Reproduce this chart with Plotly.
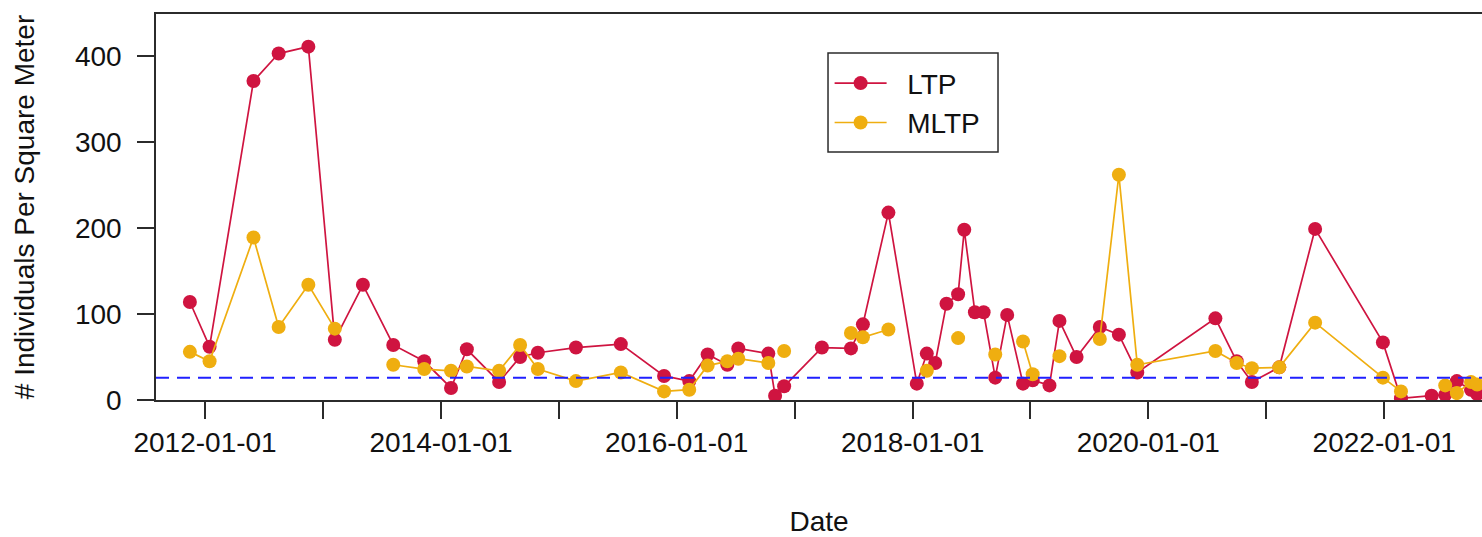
import plotly.graph_objects as go

dates = [
    "2011-11-15", "2012-01-15", "2012-05-30", "2012-08-16", "2012-11-16",
    "2013-02-06", "2013-05-04", "2013-08-06", "2013-11-10", "2014-02-01",
    "2014-03-22", "2014-06-30", "2014-09-03", "2014-10-28", "2015-02-23",
    "2015-07-12", "2015-11-23", "2016-02-09", "2016-04-06", "2016-06-06",
    "2016-07-10", "2016-10-11", "2016-11-01", "2016-11-29", "2017-03-26",
    "2017-06-24", "2017-07-31", "2017-10-18", "2018-01-14", "2018-02-14",
    "2018-03-12", "2018-04-16", "2018-05-22", "2018-06-10", "2018-07-13",
    "2018-08-09", "2018-09-14", "2018-10-21", "2018-12-09", "2019-01-08",
    "2019-03-01", "2019-04-01", "2019-05-24", "2019-08-04", "2019-10-02",
    "2019-11-28", "2020-07-27", "2020-10-01", "2020-11-17", "2021-02-10",
    "2021-06-01", "2021-12-28", "2022-02-22", "2022-05-28", "2022-07-09",
    "2022-08-14", "2022-09-27", "2022-10-16",
]

ltp = [
    114, 62, 371, 403, 411,
    70, 134, 64, 45, 14,
    59, 21, 50, 55, 61,
    65, 28, 22, 53, 41,
    60, 54, 5, 16, 61,
    60, 88, 218, 19, 54,
    43, 112, 123, 198, 102,
    102, 26, 99, 19, 23,
    17, 92, 50, 85, 76,
    32, 95, 45, 21, 38,
    199, 67, 2, 5, 6,
    22, 12, 7,
]

mltp = [
    56, 45, 189, 85, 134,
    83, None, 41, 36, 34,
    39, 34, 64, 36, 22,
    32, 10, 12, 40, 45,
    48, 43, None, 57, None,
    78, 73, 82, None, 34,
    None, None, 72, None, None,
    None, 53, None, 68, 30,
    None, 51, None, 71, 262,
    41, 57, 43, 37, 38,
    90, 26, 10, None, 17,
    8, 21, 18,
]

threshold = 26
year_ticks = [f"{y}-01-01" for y in range(2012, 2023)]
year_labels = [f"{y}-01-01" if y % 2 == 0 else "" for y in range(2012, 2023)]
y_ticks = [0, 100, 200, 300, 400]

RED = "#CF1440"
YEL = "#EFAE10"
AX = "#2b2b2b"
FONT = "Liberation Sans, Arial, sans-serif"
FS = 28

fig = go.Figure()
fig.add_trace(go.Scatter(
    x=dates, y=ltp, name="\u00a0\u00a0LTP", mode="lines+markers",
    line=dict(color=RED, width=1.7),
    marker=dict(color=RED, size=14),
))
fig.add_trace(go.Scatter(
    x=dates, y=mltp, name="\u00a0\u00a0MLTP", mode="lines+markers",
    line=dict(color=YEL, width=1.7),
    marker=dict(color=YEL, size=14),
))

fig.add_shape(type="line", xref="paper", x0=0, x1=1, yref="y",
              y0=threshold, y1=threshold,
              line=dict(color="#2020ff", width=2, dash="13px,8px"))

# legend frame
fig.add_shape(type="rect", xref="paper", yref="paper",
              x0=0.5068, x1=0.635, y0=0.6425, y1=0.899,
              line=dict(color=AX, width=1.5), fillcolor="rgba(0,0,0,0)",
              layer="above")

fig.update_layout(
    width=1482, height=537,
    margin=dict(l=156, r=0, t=14, b=137),
    paper_bgcolor="white", plot_bgcolor="white",
    font=dict(family=FONT, size=FS, color="#111"),
    showlegend=True,
    legend=dict(
        x=0.508, y=0.885, xanchor="left", yanchor="top",
        borderwidth=0, bgcolor="rgba(255,255,255,0)",
        font=dict(size=FS), tracegroupgap=0, itemwidth=52,
    ),
    xaxis=dict(
        type="date",
        range=["2011-08-02", "2022-10-31"],
        tickmode="array", tickvals=year_ticks, ticktext=year_labels,
        ticks="outside", ticklen=17, tickwidth=1.5, tickcolor=AX,
        showline=True, linecolor=AX, linewidth=1.5, mirror=True,
        showgrid=False, zeroline=False,
        tickfont=dict(size=FS),
        title=dict(text="Date", font=dict(size=FS), standoff=60),
    ),
    yaxis=dict(
        range=[0, 449],
        tickmode="array", tickvals=y_ticks,
        ticks="outside", ticklen=17, tickwidth=1.5, tickcolor=AX,
        showline=True, linecolor=AX, linewidth=1.5,
        showgrid=False, zeroline=False,
        tickfont=dict(size=FS),
        ticklabelstandoff=10,
        title=dict(text="# Individuals Per Square Meter", font=dict(size=FS), standoff=32),
    ),
)

fig.write_html("out.html", config={"displayModeBar": False},
               post_script="document.body.style.margin='0';")
